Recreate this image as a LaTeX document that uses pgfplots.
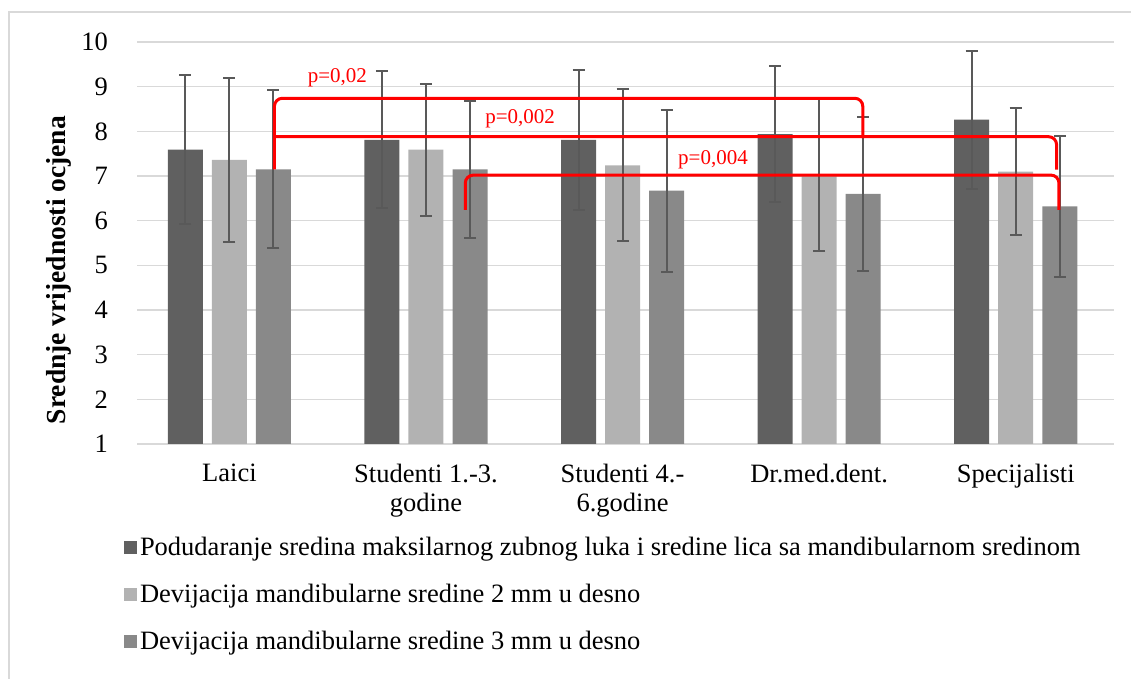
\documentclass[border=0pt]{standalone}
\usepackage{fontspec}
\setmainfont{Liberation Serif}
\usepackage{pgfplots}
\pgfplotsset{compat=1.18}
\usepackage{pgfplotstable}

\definecolor{sdark}{HTML}{606060}
\definecolor{slight}{HTML}{B2B2B2}
\definecolor{smid}{HTML}{898989}
\definecolor{errc}{HTML}{595959}
\definecolor{gridc}{HTML}{D9D9D9}

% x = group index, y = mean, e = error (+/-)
\pgfplotstableread{
x y e
0 7.59 1.67
1 7.81 1.53
2 7.81 1.56
3 7.94 1.53
4 8.26 1.54
}\tA
\pgfplotstableread{
x y e
0 7.36 1.84
1 7.59 1.48
2 7.24 1.70
3 7.02 1.70
4 7.10 1.43
}\tB
\pgfplotstableread{
x y e
0 7.15 1.77
1 7.15 1.54
2 6.67 1.81
3 6.60 1.72
4 6.32 1.58
}\tC

\newcommand{\bigtxt}{\fontsize{26.5}{29}\selectfont}

\begin{document}
\begin{tikzpicture}[x=1pt,y=1pt]
\path[use as bounding box] (0,0) rectangle (1131,679);
\draw[gridc, line width=1.2pt] (9,-2) -- (9,667) -- (1135,667);
\begin{axis}[
    at={(137pt,235pt)}, anchor=south west,
    scale only axis, width=977pt, height=402pt,
    xmin=-0.47, xmax=4.5, ymin=1, ymax=10,
    ytick={1,...,10},
    xtick={0,...,4},
    xticklabels={Laici, {Studenti 1.-3.\\godine}, {Studenti 4.-\\6.godine}, Dr.med.dent., Specijalisti},
    axis line style={draw=none},
    tick style={draw=none},
    ymajorgrids,
    grid style={gridc, line width=1.2pt},
    /pgf/number format/assume math mode=true,
    tick label style={font=\bigtxt},
    yticklabel style={inner sep=0pt, xshift=-29pt},
    xticklabel style={inner sep=0pt, yshift=-20pt, align=center},
    legend style={at={(-0.014,-0.232)}, anchor=north west, draw=none, fill=none,
        font=\bigtxt, row sep=27pt, inner sep=0pt,
        nodes={inner xsep=3.5pt, inner ysep=0pt}},
    legend cell align=left,
    legend image code/.code={\fill[#1] (0pt,-6.5pt) rectangle (13pt,6.5pt);},
    every axis plot/.append style={ybar, bar width=0.178, bar shift=0pt, draw=none},
    errs/.style={
        error bars/y dir=both, error bars/y explicit,
        error bars/error bar style={errc, line width=2pt},
        error bars/error mark options={errc, line width=2pt, mark size=6pt, rotate=90}},
]
\addplot[fill=sdark, errs] table[x expr=\thisrow{x}-0.224, y=y, y error=e] {\tA};
\addlegendentry{Podudaranje sredina maksilarnog zubnog luka i sredine lica sa mandibularnom sredinom}
\addplot[fill=slight, errs] table[x=x, y=y, y error=e] {\tB};
\addlegendentry{Devijacija mandibularne sredine 2 mm u desno}
\addplot[fill=smid, errs] table[x expr=\thisrow{x}+0.224, y=y, y error=e] {\tC};
\addlegendentry{Devijacija mandibularne sredine 3 mm u desno}

\draw[red, line width=3pt, rounded corners=8pt] (axis cs:0.229,7.15) -- (axis cs:0.229,8.74) -- (axis cs:3.222,8.74) -- (axis cs:3.222,7.85);
\draw[red, line width=3pt, rounded corners=8pt] (axis cs:0.229,7.88) -- (axis cs:4.208,7.88) -- (axis cs:4.208,7.14);
\draw[red, line width=3pt, rounded corners=8pt] (axis cs:1.2,6.24) -- (axis cs:1.2,7.02) -- (axis cs:4.22,7.02) -- (axis cs:4.22,6.24);
\node[red, font=\fontsize{21}{24}\selectfont] at (axis cs:0.549,9.19) {p=0,02};
\node[red, font=\fontsize{21}{24}\selectfont] at (axis cs:1.479,8.28) {p=0,002};
\node[red, font=\fontsize{21}{24}\selectfont] at (axis cs:2.46,7.36) {p=0,004};
\end{axis}
\node[rotate=90, font=\bfseries\fontsize{27.5}{30}\selectfont] at (59,409) {Srednje vrijednosti ocjena};
\end{tikzpicture}
\end{document}
